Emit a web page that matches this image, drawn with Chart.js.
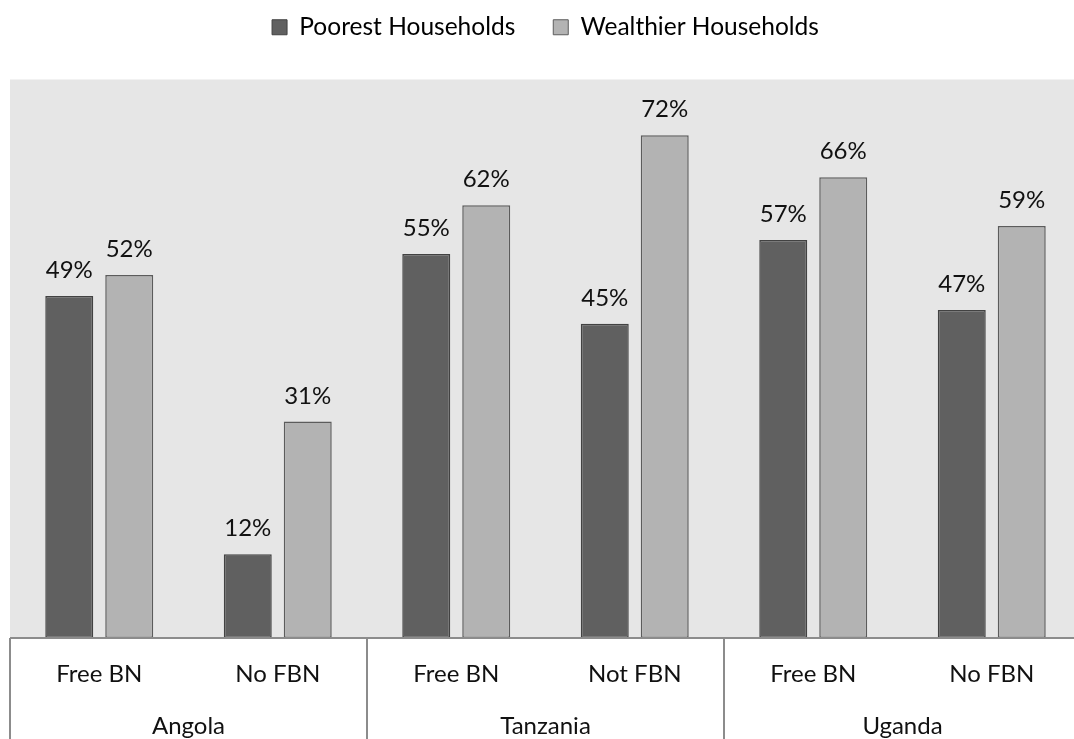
<!DOCTYPE html>
<html>
<head>
<meta charset="utf-8">
<script src="https://cdn.jsdelivr.net/npm/chart.js@4/dist/chart.umd.min.js"></script>
<style>
  html, body { margin: 0; padding: 0; overflow: hidden; background: #fff; }
  #wrap { width: 1092px; height: 739px; }
</style>
</head>
<body>
<div id="wrap"><canvas id="barChart" width="1092" height="739"></canvas></div>
<script>
const subLabels = ["Free BN", "No FBN", "Free BN", "Not FBN", "Free BN", "No FBN"];
const countries = ["Angola", "Tanzania", "Uganda"];
const poorest = [49, 12, 55, 45, 57, 47];
const wealthier = [52, 31, 62, 72, 66, 59];

const FONT = "Lato, 'Open Sans', sans-serif";

// gray plot background + group separator lines under the axis
const frame = {
  id: "frame",
  beforeInit(chart) {
    // leave a gap between legend and plot area
    const fit = chart.legend.fit;
    chart.legend.fit = function () {
      fit.call(this);
      this.height += 30;
    };
  },
  beforeDatasetsDraw(chart) {
    const { ctx, chartArea } = chart;
    ctx.save();
    ctx.fillStyle = "#e6e6e6";
    ctx.fillRect(chartArea.left, chartArea.top, chartArea.right - chartArea.left, chartArea.bottom - chartArea.top);
    ctx.restore();
  },
  afterDraw(chart) {
    const { ctx, chartArea } = chart;
    const x2 = chart.scales.x2;
    const half = (x2.getPixelForValue(1) - x2.getPixelForValue(0)) / 2;
    ctx.save();
    ctx.strokeStyle = "#8c8c8c";
    ctx.lineWidth = 2;
    ctx.beginPath();
    ctx.moveTo(chartArea.left, chartArea.bottom);
    ctx.lineTo(chartArea.right, chartArea.bottom);
    for (let i = 0; i <= countries.length; i++) {
      const x = Math.round(x2.getPixelForValue(i) - half);
      ctx.moveTo(x, chartArea.bottom);
      ctx.lineTo(x, chart.height);
    }
    ctx.stroke();
    ctx.restore();
  },
};

// percentage labels above bars
const valueLabels = {
  id: "valueLabels",
  afterDatasetsDraw(chart) {
    const { ctx } = chart;
    ctx.save();
    ctx.font = "24px " + FONT;
    ctx.fillStyle = "#111";
    ctx.textAlign = "center";
    ctx.textBaseline = "alphabetic";
    chart.data.datasets.forEach((ds, di) => {
      chart.getDatasetMeta(di).data.forEach((bar, i) => {
        ctx.fillText(ds.data[i] + "%", bar.x, bar.y - 18);
      });
    });
    ctx.restore();
  },
};

new Chart(document.getElementById("barChart"), {
  type: "bar",
  data: {
    labels: subLabels,
    datasets: [
      {
        label: "Poorest Households",
        data: poorest,
        backgroundColor: "#606060",
        borderColor: "#424242",
        borderWidth: 1.5,
        borderSkipped: false,
      },
      {
        label: "Wealthier Households",
        data: wealthier,
        backgroundColor: "#b3b3b3",
        borderColor: "#5c5c5c",
        borderWidth: 1.5,
        borderSkipped: false,
      },
    ],
  },
  options: {
    responsive: false,
    animation: false,
    barPercentage: 0.8,
    categoryPercentage: 0.672,
    layout: { padding: { left: 10, right: 11, top: -23, bottom: 0 } },
    plugins: {
      tooltip: { enabled: false },
      legend: {
        position: "top",
        labels: {
          font: { family: FONT, size: 24.5 },
          color: "#111",
          boxWidth: 15,
          boxHeight: 15,
          padding: 38,
          generateLabels(chart) {
            return chart.data.datasets.map((ds, i) => ({
              text: ds.label,
              fillStyle: ds.backgroundColor,
              strokeStyle: ds.borderColor,
              lineWidth: 1,
              datasetIndex: i,
            }));
          },
        },
      },
    },
    scales: {
      y: { display: false, min: 0, max: 80 },
      x: {
        grid: { display: false, drawTicks: false },
        border: { display: false },
        ticks: { font: { family: FONT, size: 24 }, color: "#111", padding: 22, maxRotation: 0, autoSkip: false },
        afterFit(scale) { scale.height = 52; },
      },
      x2: {
        type: "category",
        labels: countries,
        offset: true,
        position: "bottom",
        grid: { display: false, drawTicks: false },
        border: { display: false },
        ticks: { font: { family: FONT, size: 24 }, color: "#111", padding: 22, maxRotation: 0 },
        afterFit(scale) { scale.height = 49; },
      },
    },
  },
  plugins: [frame, valueLabels],
});
</script>
</body>
</html>
